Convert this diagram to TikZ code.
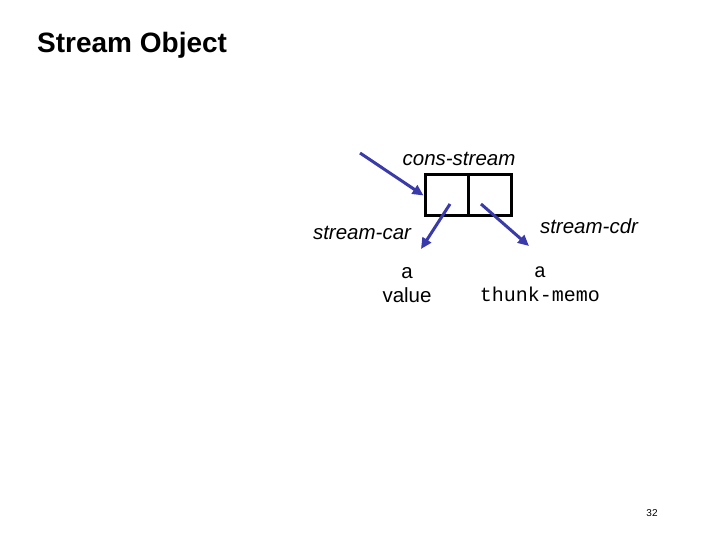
\documentclass[tikz,border=0pt]{standalone}
\usepackage{fontspec}
\setmainfont{Liberation Sans}\setmonofont{Liberation Mono}
\usetikzlibrary{arrows.meta}
\definecolor{ptr}{RGB}{58,58,170}
\tikzset{cell/.style={draw,line width=3bp,minimum width=43bp,minimum height=41bp,inner sep=0},
lbl/.style={font=\fontsize{20.5bp}{24bp}\selectfont\itshape,inner sep=0},
ptrarrow/.style={ptr,line width=3bp,-{Triangle[length=11bp,width=10bp]}}}
\begin{document}
\begin{tikzpicture}[x=1bp,y=-1bp]
\useasboundingbox[fill=white](0,0)rectangle(720,540);
\node[anchor=west,font=\fontsize{28bp}{32bp}\selectfont\bfseries,inner sep=0](title)at(37,45){Stream Object};
\node[cell](car)at(446.5,195.5){};\node[cell](cdr)at(489.5,195.5){};
\node[lbl](cons)at(459,159){cons-stream};
\node[lbl](scar)at(362,233){stream-car};\node[lbl](scdr)at(589,226){stream-cdr};
\node[align=center,font=\fontsize{20.5bp}{24bp}\selectfont,inner sep=0](val)at(407,285){a\\value};
\node[align=center,font=\fontsize{20bp}{24bp}\selectfont\ttfamily,inner sep=0](thk)at(540,284){a\\thunk-memo};
\node[font=\fontsize{10bp}{12bp}\selectfont,inner sep=0](pg)at(652,513){32};
\coordinate(in)at(360,153);\coordinate(carp)at(450,204);\coordinate(cdrp)at(481,204);
\coordinate(carend)at(421,249);\coordinate(cdrend)at(529,246);
\draw[ptrarrow](in)--(car.west);
\draw[ptrarrow](carp)--(carend);\draw[ptrarrow](cdrp)--(cdrend);
\end{tikzpicture}
\end{document}
